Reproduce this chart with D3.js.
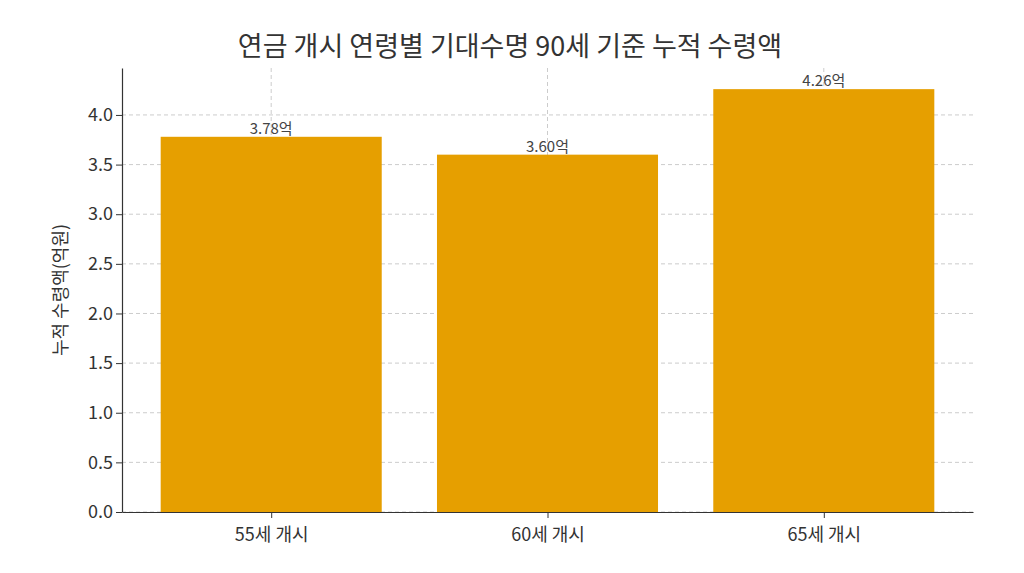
<!DOCTYPE html>
<html>
  <head>
    <meta charset="utf-8" />
    <style>body{margin:0;background:#fff;}</style>
  </head>
  <body>
    <div id="chart"></div>
    <script src="https://d3js.org/d3.v7.min.js"></script>
    <script type="text/javascript">
        const categories = ["55세 개시", "60세 개시", "65세 개시"];
        const values = [3.78, 3.60, 4.26];
        const valueLabels = ["3.78억", "3.60억", "4.26억"];
        const yTicks = [0, 0.5, 1.0, 1.5, 2.0, 2.5, 3.0, 3.5, 4.0];

        const width = 1024, height = 573;
        const margin = {top: 68, right: 51, bottom: 61, left: 122};
        const font = "'Noto Sans CJK KR', 'Noto Sans', sans-serif";

        const x = d3.scaleLinear().domain([-0.54, 2.54]).range([margin.left, width - margin.right]);
        const y = d3.scaleLinear().domain([0, 4.473]).range([height - margin.bottom, margin.top]);
        const barW = x(0.8) - x(0);

        const svg = d3.select("#chart").append("svg")
            .attr("width", width).attr("height", height);

        // grid
        svg.append("g").attr("stroke", "#ccc").attr("stroke-dasharray", "4,3")
            .selectAll("line").data(yTicks).join("line")
            .attr("x1", margin.left).attr("x2", width - margin.right)
            .attr("y1", d => y(d)).attr("y2", d => y(d));
        svg.append("g").attr("stroke", "#ccc").attr("stroke-dasharray", "4,3")
            .selectAll("line").data(categories).join("line")
            .attr("x1", (d, i) => x(i)).attr("x2", (d, i) => x(i))
            .attr("y1", margin.top).attr("y2", height - margin.bottom);

        svg.append("g").selectAll("rect").data(values).join("rect")
            .attr("x", (d, i) => x(i) - barW / 2).attr("width", barW)
            .attr("y", d => y(d)).attr("height", d => y(0) - y(d))
            .attr("fill", "#E69F00");

        svg.append("g").attr("font-family", font).attr("font-size", 15).attr("fill", "#444")
            .attr("text-anchor", "middle")
            .selectAll("text").data(values).join("text")
            .attr("x", (d, i) => x(i)).attr("y", d => y(d) - 3)
            .text((d, i) => valueLabels[i]);

        const yAxis = svg.append("g").attr("transform", `translate(${margin.left},0)`)
            .call(d3.axisLeft(y).tickValues(yTicks).tickFormat(d3.format(".1f")).tickSizeOuter(0));
        const xAxis = svg.append("g").attr("transform", `translate(0,${height - margin.bottom})`)
            .call(d3.axisBottom(x).tickValues([0, 1, 2]).tickFormat(i => categories[i]).tickSizeOuter(0));
        [yAxis, xAxis].forEach(g => {
            g.selectAll("text").attr("font-family", font).attr("font-size", 18).attr("fill", "#333");
            g.selectAll(".tick line").attr("stroke", "#333");
            g.select(".domain").attr("stroke", "#333").attr("stroke-width", 1.2);
        });
        xAxis.selectAll("text").attr("dy", "1.1em");

        svg.append("text").attr("transform", `translate(67,${(margin.top + height - margin.bottom) / 2}) rotate(-90)`)
            .attr("text-anchor", "middle").attr("font-family", font).attr("font-size", 18).attr("fill", "#333")
            .text("누적 수령액(억원)");

        svg.append("text").attr("x", 510).attr("y", 56).attr("text-anchor", "middle")
            .attr("font-family", font).attr("font-size", 27).attr("fill", "#333")
            .text("연금 개시 연령별 기대수명 90세 기준 누적 수령액");
    </script>
  </body>
</html>
